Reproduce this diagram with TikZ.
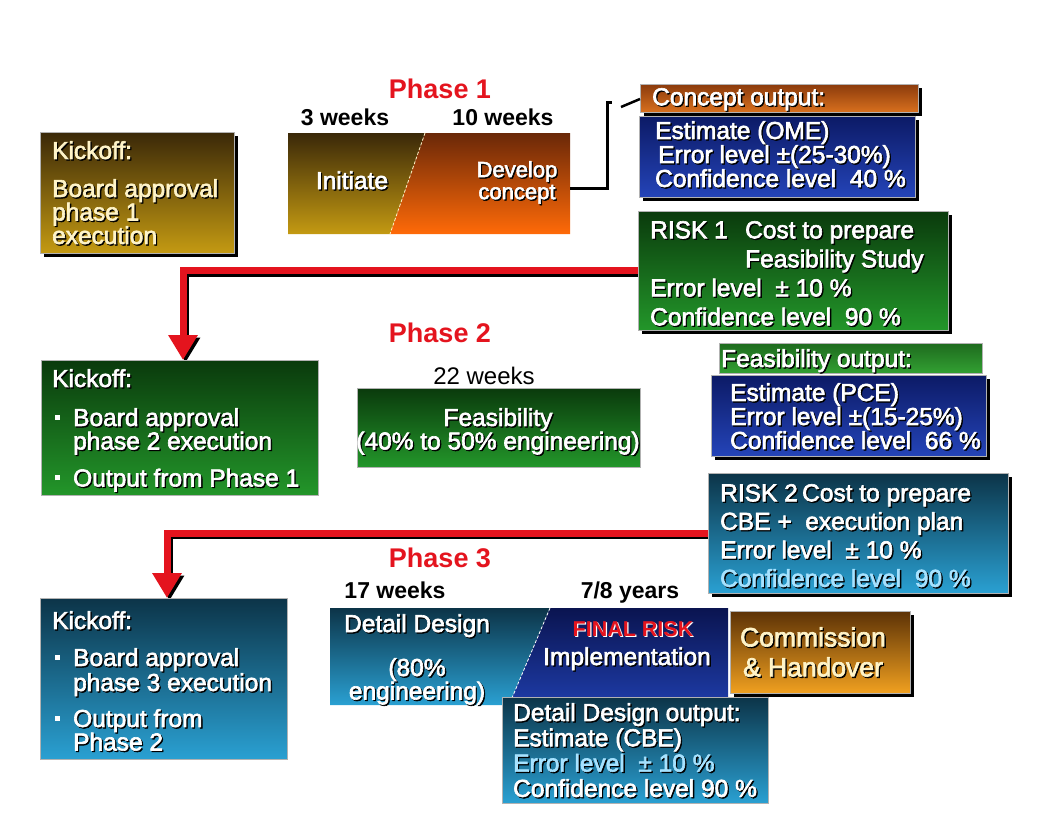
\documentclass[tikz,border=0pt]{standalone}
\usepackage{fontspec}
\setmainfont{Liberation Sans}
\newfontfamily\wfont[FakeBold=2.5]{Liberation Sans}
\usetikzlibrary{arrows.meta,shadows}
\pgfdeclarelayer{bg}\pgfdeclarelayer{mid}\pgfsetlayers{bg,mid,main}
\definecolor{brTop}{HTML}{3A2808}
\definecolor{brBot}{HTML}{C49A12}
\definecolor{orTop}{HTML}{6A2808}
\definecolor{orBot}{HTML}{FF6A08}
\definecolor{coTop}{HTML}{8A3A0C}
\definecolor{coBot}{HTML}{D8701E}
\definecolor{blTop}{HTML}{0C1A66}
\definecolor{blBot}{HTML}{2444B8}
\definecolor{grTop}{HTML}{0A3A0C}
\definecolor{grBot}{HTML}{23962A}
\definecolor{fhTop}{HTML}{1E6A1E}
\definecolor{fhBot}{HTML}{32A032}
\definecolor{tlTop}{HTML}{0C3448}
\definecolor{tlBot}{HTML}{2AA0D2}
\definecolor{nvTop}{HTML}{0A1450}
\definecolor{nvBot}{HTML}{1E3CA8}
\definecolor{cmTop}{HTML}{5C3206}
\definecolor{cmBot}{HTML}{F0A020}
\definecolor{phred}{HTML}{E4141E}
\definecolor{ltblue}{HTML}{A6E2FF}
\definecolor{cream}{HTML}{FFF4C8}
\newcommand\tsh[1]{\leavevmode\rlap{\kern1.3pt\raisebox{-1.3pt}{\color{black}#1}}#1}
\newcommand\tshw[1]{\leavevmode\rlap{\kern1.2pt\raisebox{-1.2pt}{\color{white}#1}}#1}
\newcommand\myfont[1]{\wfont\fontsize{24.5}{#1}\selectfont\lineskiplimit=-30pt\relax}
\newcommand\devfont{\wfont\fontsize{22}{22}\selectfont\lineskiplimit=-30pt\relax}
\newcommand\comfont{\wfont\fontsize{26.5}{30}\selectfont\lineskiplimit=-30pt\relax}
\newcommand\kbul{\makebox[21pt][l]{\hspace{3pt}\rule[6pt]{5pt}{5pt}}}
\tikzset{
 box/.style={anchor=north west, inner sep=0pt, outer sep=0pt, draw=white!70!black, line width=0.5pt},
 shad/.style={drop shadow={shadow xshift=4pt, shadow yshift=-4pt, fill=black, opacity=1}},
 ltx/.style={anchor=north west, inner sep=0pt, align=left, text=white, font=\myfont{23.5}},
 ctx/.style={inner sep=0pt, align=center, text=white, font=\myfont{23.5}},
 phasel/.style={anchor=base, inner sep=0pt, text=phred, font=\bfseries\fontsize{27}{27}\selectfont},
 wkl/.style={anchor=base, inner sep=0pt, text=black, font=\bfseries\fontsize{23}{23}\selectfont},
 redsh/.style={draw=black, line width=7pt, -{Triangle[width=28pt,length=25pt]}, transform canvas={shift={(2.5pt,-2.5pt)}}},
 redar/.style={draw=phred, line width=7pt, -{Triangle[width=28pt,length=25pt]}},
 blk/.style={draw=black, line width=3pt},
 dashdiag/.style={draw=cream, line width=0.8pt, dash pattern=on 3pt off 2pt},
}
\begin{document}
\begin{tikzpicture}[x=1pt,y=-1pt]
\useasboundingbox (0,0) rectangle (1060,819);
\begin{pgfonlayer}{bg}\fill[white] (0,0) rectangle (1060,819);\end{pgfonlayer}

% ---------- Phase 1 ----------
\node[phasel] (ph1) at (440,98) {Phase 1};
\node[wkl] (wk3) at (345,125) {3 weeks};
\node[wkl] (wk10) at (503,125) {10 weeks};

\node[box, shad, top color=brTop, bottom color=brBot, minimum width=194pt, minimum height=121pt] (kick1) at (40,132) {};
\node[ltx, text=cream] (kick1t) at (52,141) {\tsh{Kickoff:}\\[14.5pt]\tsh{Board approval}\\\tsh{phase 1}\\\tsh{execution}};

\shade[top color=brTop, bottom color=brBot] (288,133) -- (425,133) -- (390,234) -- (288,234) -- cycle;
\shade[top color=orTop, bottom color=orBot] (425,133) -- (570,133) -- (570,234) -- (390,234) -- cycle;
\draw[dashdiag] (425,133) -- (390,234);
\node[anchor=north west, inner sep=0pt, outer sep=0pt, minimum width=282pt, minimum height=101pt] (p1box) at (288,133) {};
\node[ctx, anchor=base] (initt) at (352,189) {\tsh{Initiate}};
\node[ctx, anchor=north, font=\devfont] (devt) at (517,161) {\tsh{Develop}\\\tsh{concept}};

% Concept output
\node[box, shad, top color=coTop, bottom color=coBot, minimum width=278pt, minimum height=28pt] (cohead) at (640,84) {};
\node[ltx] (coheadt) at (652,88) {\tsh{Concept output:}};
\coordinate (brk) at (607,102);
\draw[blk] ([yshift=-4.5pt]p1box.east) -| (brk) -- ++(5,0);
\coordinate (dsa) at (621,107);
\draw[blk, line width=2.5pt] (dsa) -- ([yshift=-1pt]cohead.west);

\node[box, shad, top color=blTop, bottom color=blBot, minimum width=276pt, minimum height=81pt] (ome) at (639,116) {};
\node[ltx, font=\myfont{24}] (omet) at (655,121) {\tsh{Estimate (OME)}\\\hspace*{3pt}\tsh{Error level ±(25-30\%)}\\\tsh{Confidence level\ \ 40 \%}};

\node[box, shad, top color=grTop, bottom color=grBot, minimum width=310pt, minimum height=119pt] (risk1) at (638,211) {};
\node[ltx, font=\myfont{29}] (risk1t) at (650,221) {\tsh{\makebox[95pt][l]{RISK 1}Cost to prepare}\\\hspace*{95pt}\tsh{Feasibility Study}\\\tsh{Error level\ \ ± 10 \%}\\\tsh{Confidence level\ \ 90 \%}};

% ---------- Phase 2 ----------
\node[phasel] (ph2) at (440,342) {Phase 2};
\node[wkl, font=\fontsize{24}{24}\selectfont] (wk22) at (484,384) {22 weeks};
\node[box, top color=grTop, bottom color=grBot, minimum width=277pt, minimum height=135pt] (kick2) at (41,360) {};
\node[ltx] (kick2t) at (52,369) {\tsh{Kickoff:}\\[15.5pt]\kbul\tsh{Board approval}\\\hspace*{21pt}\tsh{phase 2 execution}\\[13.5pt]\kbul\tsh{Output from Phase 1}};

\node[box, top color=grTop, bottom color=grBot, minimum width=283pt, minimum height=79pt] (feas) at (357,388) {};
\node[ctx, anchor=north] (feast) at (498,408) {\tsh{Feasibility}\\\tsh{(40\% to 50\% engineering)}};

\node[box, top color=fhTop, bottom color=fhBot, minimum width=263pt, minimum height=30pt] (fehead) at (719,343) {};
\node[ltx] (feheadt) at (721,349) {\tsh{Feasibility output:}};
\node[box, shad, top color=blTop, bottom color=blBot, minimum width=275pt, minimum height=81pt] (pce) at (711,375) {};
\node[ltx, font=\myfont{24}] (pcet) at (730,383) {\tsh{Estimate (PCE)}\\\tsh{Error level ±(15-25\%)}\\\tsh{Confidence level\ \ 66 \%}};

\node[box, shad, top color=tlTop, bottom color=tlBot, minimum width=300pt, minimum height=120pt] (risk2) at (708,473) {};
\node[ltx, font=\myfont{28.5}] (risk2t) at (720,484) {\tsh{\makebox[82pt][l]{RISK 2}Cost to prepare}\\\tsh{CBE +\ \ execution plan}\\\tsh{Error level\ \ ± 10 \%}\\\textcolor{ltblue}{\tsh{Confidence level\ \ 90 \%}}};

% ---------- Phase 3 ----------
\node[phasel] (ph3) at (440,567) {Phase 3};
\node[wkl] (wk17) at (395,598) {17 weeks};
\node[wkl] (yr78) at (630,598) {7/8 years};

\node[box, top color=tlTop, bottom color=tlBot, minimum width=247pt, minimum height=161pt] (kick3) at (40,598) {};
\node[ltx] (kick3t) at (52,611) {\tsh{Kickoff:}\\[13.5pt]\kbul\tsh{Board approval}\\[1.5pt]\hspace*{21pt}\tsh{phase 3 execution}\\[12.5pt]\kbul\tsh{Output from}\\\hspace*{21pt}\tsh{Phase 2}};

\shade[top color=tlTop, bottom color=tlBot] (330,608) -- (550,608) -- (509,705) -- (330,705) -- cycle;
\shade[top color=nvTop, bottom color=nvBot] (550,608) -- (728,608) -- (728,705) -- (509,705) -- cycle;
\draw[dashdiag, draw=white] (550,608) -- (509,705);
\node[anchor=north west, inner sep=0pt, outer sep=0pt, minimum width=398pt, minimum height=97pt] (p3box) at (330,608) {};
\node[ctx, anchor=base] (ddt) at (417,632) {\tsh{Detail Design}};
\node[ctx, anchor=north] (ddt2) at (417,658) {\tsh{(80\%}\\\tsh{engineering)}};
\node[anchor=base, inner sep=0pt, text=phred, font=\bfseries\fontsize{21.5}{21.5}\selectfont] (frisk) at (633,636) {\tshw{FINAL RISK}};
\node[ctx, anchor=base] (impl) at (627,665) {\tsh{Implementation}};

\node[box, shad, top color=cmTop, bottom color=cmBot, minimum width=180pt, minimum height=82pt] (comm) at (730,611) {};
\node[ctx, anchor=north, text=cream, font=\comfont] (commt) at (813,627) {\tsh{Commission}\\\tsh{\& Handover}};

\node[box, top color=tlTop, bottom color=tlBot, minimum width=266pt, minimum height=106pt] (ddo) at (502,697) {};
\node[ltx, font=\myfont{25.3}] (ddot) at (513,703) {\tsh{Detail Design output:}\\\tsh{Estimate (CBE)}\\\textcolor{ltblue}{\tsh{Error level\ \ ± 10 \%}}\\\tsh{Confidence level 90 \%}};

% ---------- red arrows ----------
\begin{pgfonlayer}{mid}
\draw[redsh] (risk1.west) -| ([xshift=3.5pt]kick2.north);
\draw[redar] (risk1.west) -| ([xshift=3.5pt]kick2.north);
\draw[redsh] (risk2.west) -| ([xshift=3.5pt]kick3.north);
\draw[redar] (risk2.west) -| ([xshift=3.5pt]kick3.north);
\end{pgfonlayer}
\end{tikzpicture}
\end{document}
